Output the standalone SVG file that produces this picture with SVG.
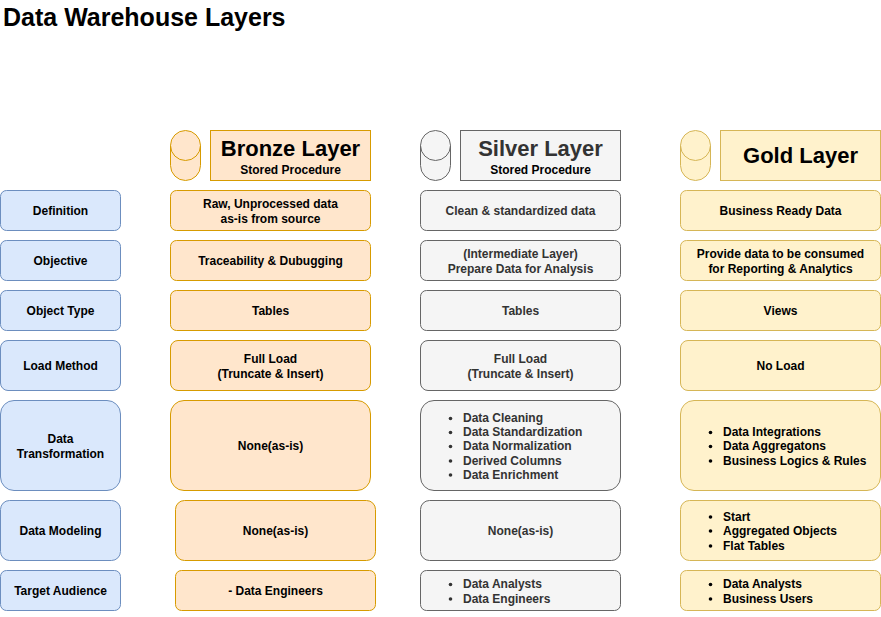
<svg xmlns="http://www.w3.org/2000/svg" width="881" height="617" viewBox="0 0 881 617">
<style>
text{font-family:"Liberation Sans",Arial,Helvetica,sans-serif;font-weight:bold;font-size:12px;fill:#000}
.m{text-anchor:middle}
.t{font-size:22px}
.b rect,.b path{fill:#dae8fc;stroke:#6c8ebf}
.o rect,.o path{fill:#ffe6cc;stroke:#d79b00}
.s rect,.s path{fill:#f5f5f5;stroke:#666666}
.g rect,.g path{fill:#fff2cc;stroke:#d6b656}
.s text{fill:#333333}
.s circle{fill:#333333}
circle{fill:#000}
path.lid{fill:none}
</style>
<rect width="881" height="617" fill="#fff"/>
<text id="title" x="3" y="26" style="font-size:25px">Data Warehouse Layers</text>

<g id="row-labels" class="b">
<g id="label-definition"><rect x="0.5" y="190.5" width="120" height="40" rx="6"/><text class="m" x="60.5" y="215">Definition</text></g>
<g id="label-objective"><rect x="0.5" y="240.5" width="120" height="40" rx="6"/><text class="m" x="60.5" y="265">Objective</text></g>
<g id="label-object-type"><rect x="0.5" y="290.5" width="120" height="40" rx="6"/><text class="m" x="60.5" y="315">Object Type</text></g>
<g id="label-load-method"><rect x="0.5" y="340.5" width="120" height="50" rx="7.5"/><text class="m" x="60.5" y="370">Load Method</text></g>
<g id="label-transformation"><rect x="0.5" y="400.5" width="120" height="90" rx="13.5"/><text class="m" x="60.5" y="443">Data</text><text class="m" x="60.5" y="458">Transformation</text></g>
<g id="label-modeling"><rect x="0.5" y="500.5" width="120" height="60" rx="9"/><text class="m" x="60.5" y="535">Data Modeling</text></g>
<g id="label-audience"><rect x="0.5" y="570.5" width="120" height="40" rx="6"/><text class="m" x="60.5" y="595">Target Audience</text></g>
</g>

<g id="bronze" class="o">
<g id="bronze-cylinder"><path d="M170.5 145.5A15 15 0 0 1 200.5 145.5V165.5A15 15 0 0 1 170.5 165.5Z"/><path class="lid" d="M170.5 145.5A15 15 0 0 0 200.5 145.5"/></g>
<g id="bronze-header"><rect x="210.5" y="130.5" width="160" height="50"/><text class="m t" x="290.5" y="156">Bronze Layer</text><text class="m" x="290.5" y="174">Stored Procedure</text></g>
<g id="bronze-definition"><rect x="170.5" y="190.5" width="200" height="40" rx="6"/><text class="m" x="270.5" y="208">Raw, Unprocessed data</text><text class="m" x="270.5" y="223">as-is from source</text></g>
<g id="bronze-objective"><rect x="170.5" y="240.5" width="200" height="40" rx="6"/><text class="m" x="270.5" y="265">Traceability &amp; Dubugging</text></g>
<g id="bronze-object-type"><rect x="170.5" y="290.5" width="200" height="40" rx="6"/><text class="m" x="270.5" y="315">Tables</text></g>
<g id="bronze-load"><rect x="170.5" y="340.5" width="200" height="50" rx="7.5"/><text class="m" x="270.5" y="363">Full Load</text><text class="m" x="270.5" y="378">(Truncate &amp; Insert)</text></g>
<g id="bronze-transformation"><rect x="170.5" y="400.5" width="200" height="90" rx="13.5"/><text class="m" x="270.5" y="450">None(as-is)</text></g>
<g id="bronze-modeling"><rect x="175.5" y="500.5" width="200" height="60" rx="9"/><text class="m" x="275.5" y="535">None(as-is)</text></g>
<g id="bronze-audience"><rect x="175.5" y="570.5" width="200" height="40" rx="6"/><text class="m" x="275.5" y="595">- Data Engineers</text></g>
</g>

<g id="silver" class="s">
<g id="silver-cylinder"><path d="M420.5 145.5A15 15 0 0 1 450.5 145.5V165.5A15 15 0 0 1 420.5 165.5Z"/><path class="lid" d="M420.5 145.5A15 15 0 0 0 450.5 145.5"/></g>
<g id="silver-header"><rect x="460.5" y="130.5" width="160" height="50"/><text class="m t" x="540.5" y="156">Silver Layer</text><text class="m" x="540.5" y="174" style="fill:#000">Stored Procedure</text></g>
<g id="silver-definition"><rect x="420.5" y="190.5" width="200" height="40" rx="6"/><text class="m" x="520.5" y="215">Clean &amp; standardized data</text></g>
<g id="silver-objective"><rect x="420.5" y="240.5" width="200" height="40" rx="6"/><text class="m" x="520.5" y="258">(Intermediate Layer)</text><text class="m" x="520.5" y="273">Prepare Data for Analysis</text></g>
<g id="silver-object-type"><rect x="420.5" y="290.5" width="200" height="40" rx="6"/><text class="m" x="520.5" y="315">Tables</text></g>
<g id="silver-load"><rect x="420.5" y="340.5" width="200" height="50" rx="7.5"/><text class="m" x="520.5" y="363">Full Load</text><text class="m" x="520.5" y="378">(Truncate &amp; Insert)</text></g>
<g id="silver-transformation"><rect x="420.5" y="400.5" width="200" height="90" rx="13.5"/>
<circle cx="450.5" cy="418.5" r="1.8"/><text x="463" y="422">Data Cleaning</text>
<circle cx="450.5" cy="432.5" r="1.8"/><text x="463" y="436">Data Standardization</text>
<circle cx="450.5" cy="446.5" r="1.8"/><text x="463" y="450">Data Normalization</text>
<circle cx="450.5" cy="461" r="1.8"/><text x="463" y="465">Derived Columns</text>
<circle cx="450.5" cy="475" r="1.8"/><text x="463" y="479">Data Enrichment</text></g>
<g id="silver-modeling"><rect x="420.5" y="500.5" width="200" height="60" rx="9"/><text class="m" x="520.5" y="535">None(as-is)</text></g>
<g id="silver-audience"><rect x="420.5" y="570.5" width="200" height="40" rx="6"/>
<circle cx="450.5" cy="584.5" r="1.8"/><text x="463" y="588">Data Analysts</text>
<circle cx="450.5" cy="599" r="1.8"/><text x="463" y="603">Data Engineers</text></g>
</g>

<g id="gold" class="g">
<g id="gold-cylinder"><path d="M680.5 145.5A15 15 0 0 1 710.5 145.5V165.5A15 15 0 0 1 680.5 165.5Z"/><path class="lid" d="M680.5 145.5A15 15 0 0 0 710.5 145.5"/></g>
<g id="gold-header"><rect x="720.5" y="130.5" width="160" height="50"/><text class="m t" x="800.5" y="163">Gold Layer</text></g>
<g id="gold-definition"><rect x="680.5" y="190.5" width="200" height="40" rx="6"/><text class="m" x="780.5" y="215">Business Ready Data</text></g>
<g id="gold-objective"><rect x="680.5" y="240.5" width="200" height="40" rx="6"/><text class="m" x="780.5" y="258">Provide data to be consumed</text><text class="m" x="780.5" y="273">for Reporting &amp; Analytics</text></g>
<g id="gold-object-type"><rect x="680.5" y="290.5" width="200" height="40" rx="6"/><text class="m" x="780.5" y="315">Views</text></g>
<g id="gold-load"><rect x="680.5" y="340.5" width="200" height="50" rx="7.5"/><text class="m" x="780.5" y="370">No Load</text></g>
<g id="gold-transformation"><rect x="680.5" y="400.5" width="200" height="90" rx="13.5"/>
<circle cx="710.5" cy="432.5" r="1.8"/><text x="723" y="436">Data Integrations</text>
<circle cx="710.5" cy="446.5" r="1.8"/><text x="723" y="450">Data Aggregatons</text>
<circle cx="710.5" cy="461" r="1.8"/><text x="723" y="465">Business Logics &amp; Rules</text></g>
<g id="gold-modeling"><rect x="680.5" y="500.5" width="200" height="60" rx="9"/>
<circle cx="710.5" cy="517" r="1.8"/><text x="723" y="521">Start</text>
<circle cx="710.5" cy="531" r="1.8"/><text x="723" y="535">Aggregated Objects</text>
<circle cx="710.5" cy="546" r="1.8"/><text x="723" y="550">Flat Tables</text></g>
<g id="gold-audience"><rect x="680.5" y="570.5" width="200" height="40" rx="6"/>
<circle cx="710.5" cy="584.5" r="1.8"/><text x="723" y="588">Data Analysts</text>
<circle cx="710.5" cy="599" r="1.8"/><text x="723" y="603">Business Users</text></g>
</g>
<g id="connectors"/>
</svg>
